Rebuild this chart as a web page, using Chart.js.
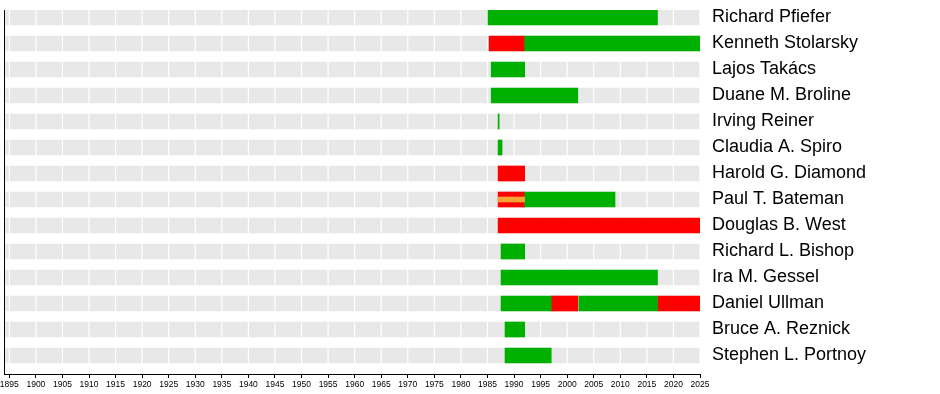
<!DOCTYPE html>
<html>
<head>
<meta charset="utf-8">
<script src="https://cdn.jsdelivr.net/npm/chart.js@4/dist/chart.umd.min.js"></script>
<style>
  body { margin: 0; background: #fff; }
</style>
</head>
<body>
<canvas id="chart" width="940" height="394"></canvas>
<script>
// rows, top to bottom
let names = ["Richard Pfiefer", "Kenneth Stolarsky", "Lajos Takács", "Duane M. Broline",
  "Irving Reiner", "Claudia A. Spiro", "Harold G. Diamond", "Paul T. Bateman",
  "Douglas B. West", "Richard L. Bishop", "Ira M. Gessel", "Daniel Ullman",
  "Bruce A. Reznick", "Stephen L. Portnoy"];

// periods per row, [from, to] in years (null = nothing)
let green1 = [[1985.1, 2017], [1992, 2025], [1985.7, 1992], [1985.7, 2002], [1987, 1987.2],
  [1987, 1987.75], null, [1992, 2009], null, [1987.55, 1992], [1987.55, 2017],
  [1987.55, 1997], [1988.3, 1992], [1988.3, 1997]];
let green2 = [null, null, null, null, null, null, null, null, null, null, null, [2002.2, 2017], null, null];
let red1 = [null, [1985.3, 1992], null, null, null, null, [1987, 1992], [1987, 1992],
  [1987, 2025], null, null, [1997, 2002], null, null];
let red2 = [null, null, null, null, null, null, null, null, null, null, null, [2017, 2025], null, null];
let orange = [null, null, null, null, null, null, null, [1987, 1992], null, null, null, null, null, null];

let years = [1895, 1900, 1905, 1910, 1915, 1920, 1925, 1930, 1935, 1940, 1945, 1950, 1955,
  1960, 1965, 1970, 1975, 1980, 1985, 1990, 1995, 2000, 2005, 2010, 2015, 2020, 2025];
let startYear = 1894, endYear = 2025;
let bandFrom = 1894.3; // grey band starts just right of the axis line

function toPoints(arr) {
  let out = [];
  arr.forEach((v, i) => { if (v) out.push({ x: v, y: i }); });
  return out;
}

function bars(arr, color, order, thick) {
  return {
    data: toPoints(arr),
    backgroundColor: color,
    borderWidth: 0,
    barThickness: thick || 15,
    grouped: false,
    order: order,
    yAxisID: "y"
  };
}

// no extra room for overhanging labels, sizes are fixed here
function fixSize(w, h) {
  return s => {
    if (w != null) s.width = w;
    if (h != null) s.height = h;
    s.paddingTop = 0; s.paddingBottom = 0;
    s.paddingLeft = 0; s.paddingRight = 0;
  };
}

// white year lines on top of the grey bands only
let yearLines = {
  id: "yearLines",
  afterDatasetDraw(chart, args) {
    if (args.index !== 0) return;
    let ctx = chart.ctx, area = chart.chartArea, xs = chart.scales.x;
    ctx.save();
    ctx.strokeStyle = "#ffffff";
    ctx.lineWidth = 1.2;
    years.forEach(y => {
      let px = xs.getPixelForValue(y);
      ctx.beginPath();
      ctx.moveTo(px, area.top);
      ctx.lineTo(px, area.bottom);
      ctx.stroke();
    });
    ctx.restore();
  }
};

let ctx = document.getElementById("chart").getContext("2d");
new Chart(ctx, {
  type: "bar",
  data: {
    datasets: [
      bars(names.map(() => [bandFrom, endYear]), "#e8e8e8", 5),
      bars(green1, "#00b000", 2),
      bars(green2, "#00b000", 2),
      bars(red1, "#ff0000", 2),
      bars(red2, "#ff0000", 2),
      bars(orange, "#f5a236", 1, 5)
    ]
  },
  plugins: [yearLines],
  options: {
    indexAxis: "y",
    responsive: false,
    animation: false,
    devicePixelRatio: 1,
    layout: { padding: { top: 10, left: 0, right: 0, bottom: 0 } },
    plugins: { legend: { display: false }, tooltip: { enabled: false } },
    scales: {
      x: {
        type: "linear",
        min: startYear,
        max: endYear,
        afterBuildTicks: s => { s.ticks = years.map(v => ({ value: v })); },
        afterFit: fixSize(null, 20),
        grid: { drawOnChartArea: false, drawTicks: true, tickLength: 4, color: "#000" },
        border: { display: true, color: "#000", width: 1 },
        ticks: {
          autoSkip: false, maxRotation: 0, padding: 2, color: "#000",
          font: { family: "Liberation Sans, Arial", size: 8.5 },
          callback: v => String(v)
        }
      },
      y: {
        type: "linear",
        position: "right",
        reverse: true,
        offset: false,
        min: -7.5 / 26,
        max: 356.5 / 26,
        afterBuildTicks: s => { s.ticks = names.map((n, i) => ({ value: i })); },
        afterFit: fixSize(240, null),
        grid: { display: false, drawTicks: false },
        border: { display: false },
        ticks: {
          autoSkip: false, padding: 12, color: "#000",
          font: { family: "Liberation Sans, Arial", size: 18 },
          callback: v => names[v]
        }
      },
      y2: {
        type: "linear",
        position: "left",
        z: 1,
        afterFit: fixSize(4, null),
        grid: { display: false, drawTicks: false },
        border: { display: true, color: "#000", width: 1 },
        ticks: { display: false }
      }
    }
  }
});
</script>
</body>
</html>
